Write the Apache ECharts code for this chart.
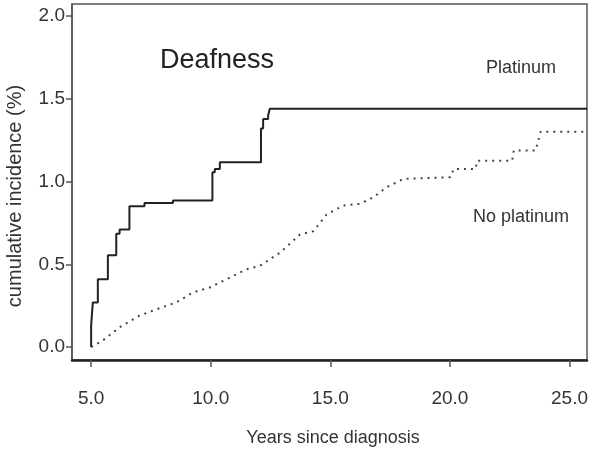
<!DOCTYPE html>
<html>
<head>
<meta charset="utf-8">
<script src="https://cdn.jsdelivr.net/npm/echarts@6/dist/echarts.min.js"></script>
<style>
  html, body { margin: 0; padding: 0; background: #fff; }
  #chart { width: 594px; height: 453px; }
</style>
</head>
<body>
<div id="chart"></div>
<script>
// values (years since diagnosis, cumulative incidence %)
const platinumYears = [5.0, 5.0, 5.07, 5.28, 5.70, 6.05, 6.19, 6.60, 7.23, 8.42, 10.07, 10.17, 10.38, 12.10, 12.19, 12.40, 12.47, 25.73];
const platinumInc = [0.0, 0.13, 0.27, 0.41, 0.555, 0.685, 0.71, 0.85, 0.87, 0.885, 1.056, 1.076, 1.116, 1.32, 1.378, 1.40, 1.44, 1.44];

const noPlatYears = [5.0, 5.49, 6.19, 7.02, 7.86, 8.56, 9.26, 9.96, 10.66, 11.5, 12.05, 12.89, 13.73, 14.29, 14.84, 15.54, 16.24, 16.8, 17.35, 18.06, 20.02, 20.16, 21.07, 21.14, 22.6, 22.67, 23.58, 23.79, 25.73];
const noPlatInc = [0.0, 0.04, 0.12, 0.19, 0.235, 0.27, 0.33, 0.36, 0.41, 0.47, 0.49, 0.57, 0.68, 0.70, 0.80, 0.855, 0.865, 0.905, 0.965, 1.016, 1.026, 1.076, 1.076, 1.126, 1.126, 1.187, 1.187, 1.30, 1.30];

const xTicks = [5, 10, 15, 20, 25];
const yTicks = [0, 0.5, 1.0, 1.5, 2.0];

const zip = (xs, ys) => xs.map((x, i) => [x, ys[i]]);
const txt = { fontFamily: 'Liberation Sans', color: '#333' };

const chart = echarts.init(document.getElementById('chart'));
chart.setOption({
  animation: false,
  grid: { left: 72, right: 7, top: 4, bottom: 93, show: true, borderColor: '#555', borderWidth: 1.5 },
  xAxis: {
    type: 'value', min: 4.2, max: 25.73,
    splitLine: { show: false },
    axisLine: { onZero: false, lineStyle: { color: '#222', width: 2.5 } },
    axisTick: { customValues: xTicks, length: 7, lineStyle: { color: '#555', width: 1.5 } },
    axisLabel: { customValues: xTicks, margin: 29, fontSize: 19, ...txt, formatter: v => v.toFixed(1) }
  },
  yAxis: {
    type: 'value', min: -0.078, max: 2.072,
    splitLine: { show: false },
    axisLine: { onZero: false, lineStyle: { color: '#555', width: 1.5 } },
    axisTick: { customValues: yTicks, length: 6, lineStyle: { color: '#555', width: 1.5 } },
    axisLabel: { customValues: yTicks, margin: 7, fontSize: 19, ...txt, formatter: v => v.toFixed(1) }
  },
  series: [
    {
      name: 'Platinum', type: 'line', step: 'end', data: zip(platinumYears, platinumInc),
      symbol: 'none', lineStyle: { color: '#222', width: 2 }
    },
    {
      name: 'No platinum', type: 'line', data: zip(noPlatYears, noPlatInc),
      symbol: 'none', lineStyle: { color: '#444', width: 2, type: [2, 5] }
    }
  ],
  graphic: [
    { type: 'text', left: 160, top: 47, style: { text: 'Deafness', font: '27px "Liberation Sans"', fill: '#222' } },
    { type: 'text', left: 486, top: 59, style: { text: 'Platinum', font: '18px "Liberation Sans"', fill: '#333' } },
    { type: 'text', left: 473, top: 208, style: { text: 'No platinum', font: '18px "Liberation Sans"', fill: '#333' } },
    { type: 'text', x: 333, y: 438, style: { text: 'Years since diagnosis', font: '18px "Liberation Sans"', fill: '#333', align: 'center', verticalAlign: 'middle' } },
    { type: 'text', x: 15, y: 196, rotation: Math.PI / 2, style: { text: 'cumulative incidence (%)', font: '20px "Liberation Sans"', fill: '#333', align: 'center', verticalAlign: 'middle' } }
  ]
});
</script>
</body>
</html>
